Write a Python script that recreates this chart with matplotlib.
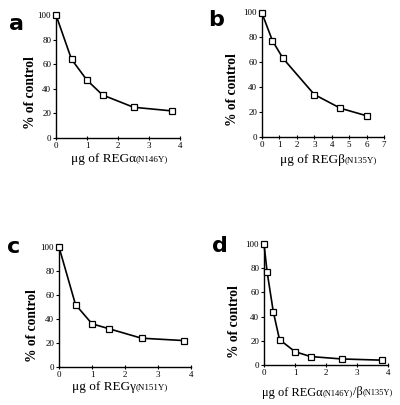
import matplotlib
matplotlib.use("Agg")
import matplotlib.pyplot as plt

plt.rcParams['font.family'] = ['Liberation Serif', 'DejaVu Serif']

# Panel a
xa = [0, 0.5, 1, 1.5, 2.5, 3.75]
ya = [100, 64, 47, 35, 25, 22]
# Panel b
xb = [0, 0.6, 1.2, 3, 4.5, 6]
yb = [99, 77, 63, 34, 23, 17]
# Panel c
xc = [0, 0.5, 1, 1.5, 2.5, 3.8]
yc = [100, 52, 36, 32, 24, 22]
# Panel d
xd = [0, 0.1, 0.3, 0.5, 1, 1.5, 2.5, 3.8]
yd = [100, 77, 44, 21, 11, 7, 5, 4]

yticks = [0, 20, 40, 60, 80, 100]

W, H = 400, 405
fig = plt.figure(figsize=(W / 100, H / 100), dpi=100)


def fx(px):
    return px / W


def fy(py):
    return 1 - py / H


panels = [
    ("a", (56, 180, 15, 138), xa, ya, [0, 1, 2, 3, 4], (0, 4),
     ["μg of REGα", "(N146Y)"], (16, 24), (30, 93), (71, 159), 9.5),
    ("b", (262, 384, 12, 137), xb, yb, [0, 1, 2, 3, 4, 5, 6, 7], (0, 7),
     ["μg of REGβ", "(N135Y)"], (216, 20), (233, 90), (280, 160), 9.5),
    ("c", (59, 191, 247, 367), xc, yc, [0, 1, 2, 3, 4], (0, 4),
     ["μg of REGγ", "(N151Y)"], (14, 247), (33, 326), (72, 387), 9.5),
    ("d", (264, 388, 244, 365), xd, yd, [0, 1, 2, 3, 4], (0, 4),
     ["μg of REGα", "(N146Y)", "/β", "(N135Y)"], (220, 246), (235, 322), (262, 393), 8.9),
]

for letter, box, x, y, xt, xl, xlab, lpos, ylpos, xlpos, fs in panels:
    l, r, t, b = box
    ax = fig.add_axes([fx(l), fy(b), (r - l) / W, (b - t) / H])
    ax.plot(x, y, color='black', lw=1.2, marker='s', ms=4.0,
            mfc='white', mec='black', mew=0.9, clip_on=False, zorder=3)
    ax.set_xlim(*xl)
    ax.set_ylim(0, 100)
    ax.set_xticks(xt)
    ax.set_yticks(yticks)
    ax.tick_params(labelsize=6.5, length=2, width=0.8, pad=1.5)
    ax.tick_params(axis='x', direction='inout', length=3)
    for s in ['top', 'right']:
        ax.spines[s].set_visible(False)
    for s in ['left', 'bottom']:
        ax.spines[s].set_linewidth(1.0)
    fig.text(fx(ylpos[0]), fy(ylpos[1]), "% of control", fontsize=9.8,
             fontweight='bold', rotation=90, ha='center', va='center')
    chain = fig.text(fx(xlpos[0]), fy(xlpos[1]), xlab[0], fontsize=fs,
                     ha='left', va='center')
    for i, p in enumerate(xlab[1:]):
        small = (i % 2 == 0)
        chain = ax.annotate(p, xy=(1, 0.12 if small else 0), xycoords=chain,
                            fontsize=fs * 0.68 if small else fs,
                            ha='left', va='bottom', annotation_clip=False)
    fig.text(fx(lpos[0]), fy(lpos[1]), letter, fontsize=16, fontweight='heavy',
             family='DejaVu Sans', ha='center', va='center')

fig.savefig("out.png", dpi=100)
